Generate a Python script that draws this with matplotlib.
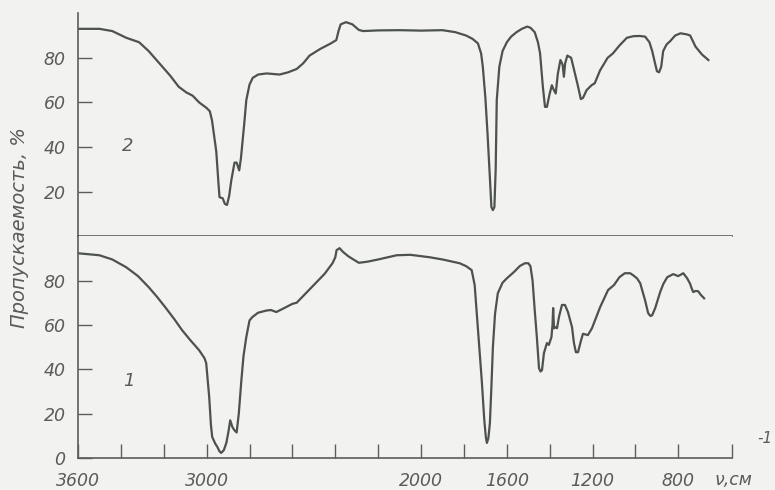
import matplotlib
matplotlib.use("Agg")
import matplotlib.pyplot as plt

plt.rcParams['font.family'] = ['DejaVu Sans']
plt.rcParams['font.style'] = 'italic'

bg = '#f2f2f0'
ink = '#4d524d'
txt = '#5a5c5a'

# спектр 2 (верхний)
wn2 = [3600, 3500, 3440, 3375, 3315, 3270, 3220, 3170, 3130, 3095, 3065, 3035,
       3000, 2985, 2975, 2965, 2955, 2945, 2940, 2925, 2915, 2905, 2895, 2885,
       2870, 2860, 2848, 2840, 2825, 2815, 2800, 2785, 2760, 2720, 2660, 2620,
       2580, 2550, 2520, 2470, 2420, 2395, 2385, 2375, 2350, 2320, 2290, 2270,
       2200, 2100, 2000, 1900, 1840, 1790, 1760, 1735, 1720, 1712, 1700, 1690,
       1680, 1672, 1665, 1658, 1652, 1647, 1635, 1620, 1600, 1580, 1555, 1530,
       1505, 1490, 1470, 1455, 1445, 1432, 1422, 1413, 1400, 1390, 1383, 1372,
       1362, 1350, 1340, 1334, 1328, 1318, 1300, 1285, 1270, 1255, 1245, 1228,
       1205, 1190, 1165, 1130, 1105, 1075, 1040, 1010, 980, 955, 935, 922, 910,
       900, 890, 880, 871, 855, 838, 815, 790, 760, 745, 720, 690, 660]
t2 = [93, 93, 92, 89, 87, 83, 77.5, 72, 67, 64.5, 63, 60,
      57.5, 56, 52, 45, 38, 24, 17.5, 17, 14.5, 14, 18, 25,
      33, 33, 29.5, 35, 50, 61, 68, 71, 72.5, 73, 72.5, 73.5,
      75, 77.5, 81, 84, 86.5, 88, 92, 95, 96, 95, 92.5, 92,
      92.3, 92.4, 92.2, 92.4, 91.5, 90, 88.5, 86.5, 82, 76, 62, 46,
      28, 13, 11.7, 13, 30, 61, 76, 83, 87, 89.5, 91.5, 93,
      94, 93.5, 91.5, 87, 82, 67, 58, 58, 64, 67.7, 66, 64,
      73, 79, 77, 71.5, 77.5, 81, 80, 74, 68, 61.5, 62, 65.5,
      67.7, 68.6, 74.4, 80, 82, 85.5, 89, 89.7, 89.8, 89.5, 87, 83, 78,
      74, 73.5, 76, 83, 86, 87.5, 90, 91, 90.5, 90, 85, 81.5, 79]

# спектр 1 (нижний)
wn1 = [3600, 3500, 3440, 3375, 3320, 3270, 3230, 3190, 3150, 3115, 3075, 3035,
       3010, 3002, 2995, 2988, 2980, 2974, 2960, 2950, 2940, 2932, 2920, 2908,
       2898, 2890, 2880, 2871, 2860, 2850, 2838, 2828, 2815, 2800, 2787, 2760,
       2720, 2700, 2675, 2640, 2600, 2580, 2540, 2490, 2450, 2413, 2400, 2394,
       2380, 2365, 2340, 2324, 2290, 2250, 2200, 2114, 2050, 1960, 1900, 1820,
       1790, 1764, 1750, 1740, 1730, 1717, 1705, 1698, 1693, 1686, 1679, 1672,
       1665, 1655, 1642, 1620, 1600, 1565, 1540, 1516, 1500, 1490, 1480, 1470,
       1460, 1450, 1443, 1436, 1427, 1413, 1404, 1392, 1387, 1384, 1380, 1371,
       1366, 1357, 1343, 1329, 1315, 1296, 1287, 1278, 1268, 1254, 1245, 1222,
       1203, 1165, 1128, 1100, 1075, 1050, 1025, 1011, 993, 978, 955, 941,
       930, 922, 908, 885, 870, 852, 824, 801, 777, 759, 745, 740, 731, 720,
       708, 695, 680]
t1 = [92.3, 91.4, 89.5, 86, 82, 77, 72.5, 67.6, 62.5, 57.7, 53, 48.6,
      45, 42.8, 35, 27.5, 15, 9.5, 6.5, 5, 3, 2.3, 3.5, 6.8,
      12, 17, 14, 12.6, 11.5, 20, 35, 46, 54.5, 62, 63.5, 65.5,
      66.5, 66.7, 65.8, 67.5, 69.5, 70, 74, 79, 83, 87.8, 90.5, 93.7,
      94.6, 93, 91, 90, 88, 88.5, 89.5, 91.4, 91.6, 90.5, 89.5, 87.8,
      86.5, 84.7, 78, 65, 52, 35, 17, 9.5, 6.8, 9, 15.8, 32,
      50, 65, 74.3, 79, 81, 84, 86.5, 87.8, 87.8, 86.5, 80, 66.7,
      54.5, 40.5, 39, 39.6, 47.3, 51.8, 51, 54.5, 60, 67.6, 58.5, 59,
      58.5, 63.5, 69, 69, 65.8, 59, 51.8, 47.7, 47.7, 53, 56, 55.4,
      58.5, 68, 75.7, 78, 81.5, 83.3, 83.3, 82.4, 81, 78.8, 71, 65.3,
      64, 64.4, 67.6, 74.8, 78.5, 81.5, 82.9, 82, 83.3, 81, 78.5, 77, 74.8, 75.3,
      75.2, 73.5, 72]

xticks = [3600, 3400, 3200, 3000, 2800, 2600, 2400, 2200, 2000, 1800, 1600,
          1400, 1200, 1000, 800, 550]
xlabels = ['3600', '', '', '3000', '', '', '', '', '2000', '', '1600',
           '', '1200', '', '800', '']
yticks = [20, 40, 60, 80]

fig = plt.figure(figsize=(7.75, 4.9), dpi=100, facecolor=bg)
left, width = 0.1006, 0.8439
ax2 = fig.add_axes([left, 0.518, width, 0.455])
ax1 = fig.add_axes([left, 0.0653, width, 0.4527])

for ax in (ax1, ax2):
    ax.set_facecolor(bg)
    ax.set_xlim(3600, 550)
    ax.set_ylim(0, 100)
    for s in ('top', 'right'):
        ax.spines[s].set_visible(False)
    for s in ('left', 'bottom'):
        ax.spines[s].set_color('#5a5e5a')
        ax.spines[s].set_linewidth(1.2)
    ax.tick_params(direction='in', length=10, width=1, colors='#5a5e5a',
                   labelcolor=txt, labelsize=12.5, pad=9)

ax2.plot(wn2, t2, color=ink, lw=1.6)
ax1.plot(wn1, t1, color=ink, lw=1.6)

ax2.set_yticks(yticks)
ax2.set_xticks([])
ax1.set_yticks([0] + yticks)
ax1.set_xticks(xticks)
ax1.set_xticklabels(xlabels)
ax1.tick_params(axis='x', pad=10)

fig.text(128 / 775, 1 - 146 / 490, '2', fontsize=13, color=txt, ha='center', va='center')
fig.text(129 / 775, 1 - 381 / 490, '1', fontsize=13, color=txt, ha='center', va='center')
fig.text(20 / 775, 1 - 228 / 490, 'Пропускаемость, %', rotation=90, fontsize=14,
         color=txt, ha='center', va='center')
fig.text(714 / 775, 1 - 485 / 490, 'ν,см', fontsize=12.5, color=txt, ha='left', va='baseline')
fig.text(757 / 775, 1 - 443 / 490, '-1', fontsize=11, color=txt, ha='left', va='baseline')

fig.savefig('out.png', dpi=100, facecolor=bg)
